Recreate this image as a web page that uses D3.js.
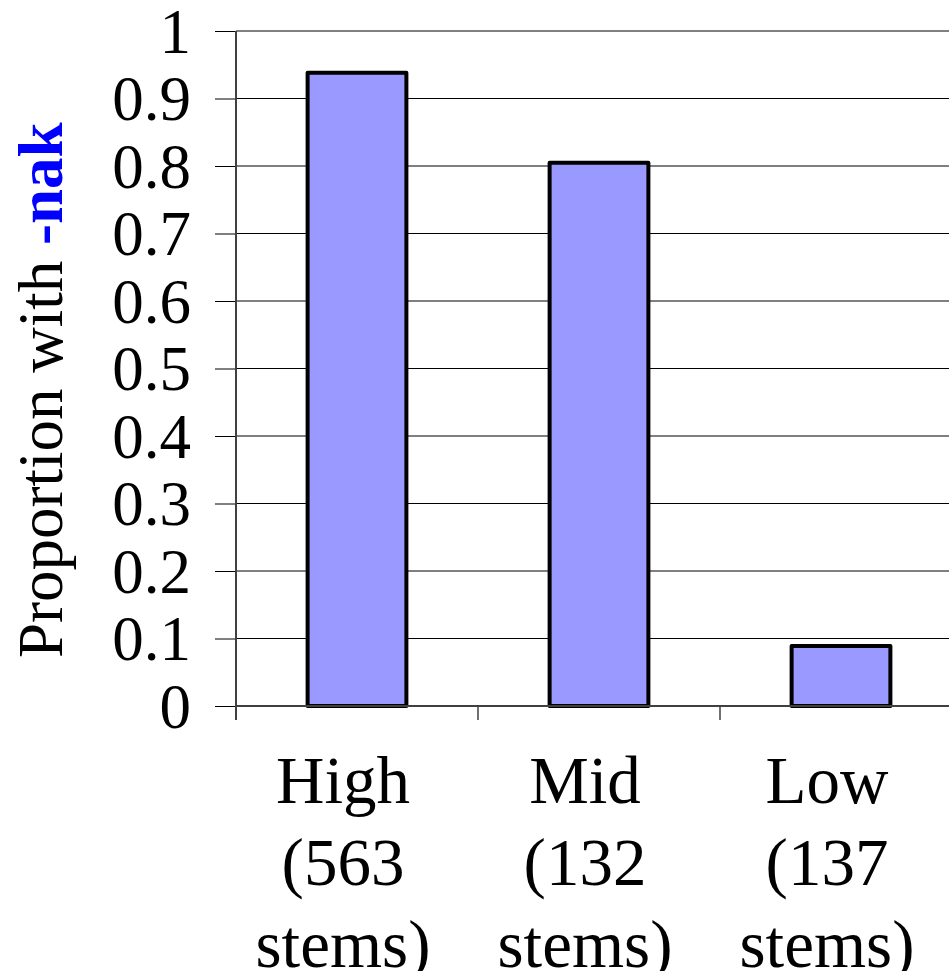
<!DOCTYPE html>
<html>
<head>
<meta charset="utf-8">
<script src="https://cdn.jsdelivr.net/npm/d3@7"></script>
<style>
  html, body { margin: 0; padding: 0; background: #fff; }
  svg { display: block; }
</style>
</head>
<body>
<svg id="chart" width="949" height="971"></svg>
<script>
// --- Data ---
const categories = ["High", "Mid", "Low"];
const categoryLines = [
  ["High", "(563", "stems)"],
  ["Mid", "(132", "stems)"],
  ["Low", "(137", "stems)"],
];
const proportions = [0.938, 0.805, 0.089];
const yTicks = [0, 0.1, 0.2, 0.3, 0.4, 0.5, 0.6, 0.7, 0.8, 0.9, 1];
const yTickLabels = ["0", "0.1", "0.2", "0.3", "0.4", "0.5", "0.6", "0.7", "0.8", "0.9", "1"];

const fontFamily = "'Liberation Serif', 'Times New Roman', Times, serif";
const svg = d3.select("#chart");

// plot area (right edge runs past the window, as in the original)
const plotLeft = 236, plotTop = 31, plotBottom = 706, bandW = 242;
const plotRight = plotLeft + bandW * categories.length;

const x = d3.scaleBand().domain(categories).range([plotLeft, plotRight]).paddingInner(0).paddingOuter(0);
const y = d3.scaleLinear().domain([0, 1]).range([plotBottom, plotTop]);

// --- Gridlines ---
svg.append("g")
  .selectAll("line")
  .data(yTicks.filter((d) => d > 0 && d < 1))
  .join("line")
  .attr("x1", plotLeft).attr("x2", plotRight)
  .attr("y1", (d) => y(d)).attr("y2", (d) => y(d))
  .attr("stroke", "#000").attr("stroke-width", 1);

// top border
svg.append("line")
  .attr("x1", plotLeft).attr("x2", plotRight)
  .attr("y1", y(1)).attr("y2", y(1))
  .attr("stroke", "#808080").attr("stroke-width", 2);

// --- Bars ---
const barW = x.bandwidth() / 2.45;
svg.append("g")
  .selectAll("rect")
  .data(proportions)
  .join("rect")
  .attr("x", (d, i) => x(categories[i]) + (x.bandwidth() - barW) / 2)
  .attr("y", (d) => y(d))
  .attr("width", barW)
  .attr("height", (d) => y(0) - y(d))
  .attr("fill", "#9999FF")
  .attr("stroke", "#000")
  .attr("stroke-width", 4)
  .attr("stroke-linejoin", "round");

// --- Y axis ---
const yAxis = svg.append("g")
  .attr("transform", `translate(${plotLeft},0)`)
  .call(d3.axisLeft(y).tickValues(yTicks).tickSize(21).tickPadding(24)
    .tickFormat((d, i) => yTickLabels[i]));
yAxis.select(".domain").remove();
yAxis.append("line")
  .attr("x1", 0).attr("x2", 0).attr("y1", plotTop).attr("y2", plotBottom + 14)
  .attr("stroke", "#404040").attr("stroke-width", 2);
yAxis.selectAll(".tick line").attr("stroke", "#000").attr("stroke-width", 1);
yAxis.selectAll(".tick text")
  .attr("fill", "#000")
  .style("font-family", fontFamily)
  .style("font-size", "63px")
  .attr("dy", "0.34em");

// --- X axis ---
svg.append("line")
  .attr("x1", plotLeft).attr("x2", plotRight)
  .attr("y1", plotBottom).attr("y2", plotBottom)
  .attr("stroke", "#404040").attr("stroke-width", 2);

svg.append("g")
  .selectAll("line")
  .data(categories.slice(1))
  .join("line")
  .attr("x1", (d) => x(d)).attr("x2", (d) => x(d))
  .attr("y1", plotBottom).attr("y2", plotBottom + 14)
  .attr("stroke", "#404040").attr("stroke-width", 1.5);

const xLabels = svg.append("g")
  .selectAll("text")
  .data(categories)
  .join("text")
  .attr("text-anchor", "middle")
  .attr("fill", "#000")
  .style("font-family", fontFamily)
  .style("font-size", "67px")
  .attr("transform", (d) => `translate(${x(d) + x.bandwidth() / 2 - 14},803)`);

xLabels.selectAll("tspan")
  .data((d, i) => categoryLines[i])
  .join("tspan")
  .attr("x", 0)
  .attr("y", (d, i) => i * 82)
  .text((d) => d);

// --- Y title ---
const title = svg.append("text")
  .attr("transform", "translate(62,658) rotate(-90)")
  .attr("text-anchor", "start")
  .attr("fill", "#000")
  .style("font-family", fontFamily)
  .style("font-size", "63px");
title.append("tspan").text("Proportion with ");
title.append("tspan").attr("font-weight", "bold").attr("fill", "#0000FF").text("-nak");
</script>
</body>
</html>
